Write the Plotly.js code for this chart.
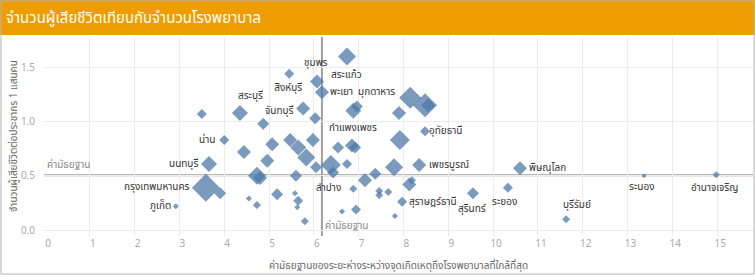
<!DOCTYPE html>
<html>
<head>
<meta charset="utf-8">
<script src="https://cdn.plot.ly/plotly-3.0.1.min.js"></script>
<style>
  html, body { margin: 0; padding: 0; background: #fff; }
  #chart { width: 755px; height: 275px; }
</style>
</head>
<body>
<div id="chart"></div>
<script>
// ---- data ----
const provinces = [
  'ชุมพร','สิงห์บุรี','สระแก้ว','พะเยา','','สระบุรี','','จันทบุรี','','','มุกดาหาร',
  '','','','','อุทัยธานี','','น่าน','','','','',
  '','','','นนทบุรี','','','','','','',
  '','','กำแพงเพชร','','','','','เพชรบูรณ์','','',
  'ลำปาง','','','','สุราษฎร์ธานี','','','','','',
  '','','','','','กรุงเทพมหานคร','','ภูเก็ต','สุรินทร์','พิษณุโลก',
  'ระยอง','บุรีรัมย์','ระนอง','อำนาจเจริญ'
];
const medianDistance = [
  6.74, 5.45, 6.07, 6.18, 3.50, 4.35, 4.87, 5.76, 6.03, 6.88, 6.96,
  8.15, 8.48, 8.55, 7.90, 8.48, 7.92, 4.00, 4.44, 5.07, 5.47, 5.65,
  5.83, 5.98, 4.96, 3.66, 4.73, 4.80, 5.60, 6.05, 6.38, 6.43,
  6.74, 6.54, 6.85, 6.92, 7.14, 7.37, 7.79, 8.35, 8.13, 8.19,
  6.88, 7.46, 7.46, 7.66, 7.97, 6.63, 6.94, 7.81, 5.80, 5.18,
  4.55, 4.73, 5.58, 5.65, 5.63, 3.59, 3.91, 2.92, 9.55, 10.60,
  10.33, 11.63, 13.37, 14.98
];
const deathsPer100k = [
  1.60, 1.44, 1.37, 1.27, 1.07, 1.08, 0.98, 1.12, 1.03, 1.10, 1.14,
  1.22, 1.15, 1.15, 1.08, 0.91, 0.83, 0.83, 0.72, 0.79, 0.83, 0.76,
  0.67, 0.83, 0.64, 0.61, 0.50, 0.48, 0.50, 0.58, 0.60, 0.53,
  0.61, 0.76, 0.78, 0.76, 0.46, 0.52, 0.58, 0.60, 0.42, 0.46,
  0.38, 0.36, 0.32, 0.35, 0.26, 0.17, 0.19, 0.13, 0.08, 0.33,
  0.29, 0.23, 0.34, 0.27, 0.21, 0.39, 0.34, 0.22, 0.34, 0.57,
  0.39, 0.10, 0.50, 0.51
];
// relative size measure (e.g. number of hospitals) per province
const hospitals = [
  9, 5, 7, 7, 5, 8, 6, 7, 6, 8, 6,
  11, 12, 7, 7, 5, 10, 5, 7, 7, 7, 8,
  9, 7, 7, 8, 9, 7, 6, 6, 10, 6,
  5, 6, 7, 6, 7, 6, 9, 7, 7, 4,
  4, 4, 4, 4, 5, 3, 5, 3, 4, 6,
  3, 4, 3, 5, 3, 14, 6, 3, 6, 7,
  5, 4, 2.5, 3.5
];
const medianX = 6.18;
const medianY = 0.505;
const xTicks = [0,1,2,3,4,5,6,7,8,9,10,11,12,13,14,15];
const yTicks = [0, 0.5, 1.0, 1.5];

// ---- label placement (pixel offsets from the mark) ----
const labelOffsets = {
  'ชุมพร': [-31, -6], 'สิงห์บุรี': [-1, -14], 'สระแก้ว': [30, 6], 'พะเยา': [20, 0],
  'มุกดาหาร': [20, 14], 'สระบุรี': [11, 17], 'จันทบุรี': [-24, -2], 'กำแพงเพชร': [1, 17],
  'อุทัยธานี': [21, 0], 'เพชรบูรณ์': [30, 0], 'สุราษฎร์ธานี': [31, 0], 'สุรินทร์': [-1, -16],
  'ลำปาง': [-25, 1], 'น่าน': [-17, 0], 'นนทบุรี': [-25, 0], 'กรุงเทพมหานคร': [-49, 1],
  'ภูเก็ต': [-15, 0], 'พิษณุโลก': [28, 0], 'ระยอง': [-3, -14], 'บุรีรัมย์': [11, 14],
  'ระนอง': [-2, -11], 'อำนาจเจริญ': [-2, -13]
};

const FONT = '"Noto Sans Thai", "Noto Sans", "Open Sans", sans-serif';

// geometry helpers for paper coords outside plot
const W = 755, H = 275, ML = 44, MR = 2, MT = 37, MB = 39;
const PW = W - ML - MR, PH = H - MT - MB;
const px = v => (v - ML) / PW;
const py = v => (H - MB - v) / PH;

const annotations = [];
provinces.forEach((p, i) => {
  if (!p || !labelOffsets[p]) return;
  annotations.push({
    x: medianDistance[i], y: deathsPer100k[i], xref: 'x', yref: 'y',
    text: p, showarrow: false,
    xshift: labelOffsets[p][0], yshift: labelOffsets[p][1],
    font: { family: FONT, size: 10, color: '#333333' }
  });
});
// median labels
annotations.push({
  x: 0, y: medianY, xref: 'paper', yref: 'y', xanchor: 'left', yanchor: 'bottom',
  text: 'ค่ามัธยฐาน', showarrow: false, xshift: 1, yshift: 0,
  font: { family: FONT, size: 10, color: '#888888' }
});
annotations.push({
  x: medianX, y: 0, xref: 'x', yref: 'paper', xanchor: 'left', yanchor: 'bottom',
  text: 'ค่ามัธยฐาน', showarrow: false, xshift: 1, yshift: 0,
  font: { family: FONT, size: 10, color: '#888888' }
});
// y-axis title
annotations.push({
  x: px(14), y: py(136), xref: 'paper', yref: 'paper', xanchor: 'center', yanchor: 'middle',
  text: 'จำนวนผู้เสียชีวิตต่อประชากร 1 แสนคน', textangle: -90, showarrow: false,
  font: { family: FONT, size: 10, color: '#666666' }
});

const trace = {
  type: 'scatter', mode: 'markers',
  x: medianDistance, y: deathsPer100k, text: provinces,
  hoverinfo: 'text+x+y',
  marker: {
    symbol: 'diamond', size: hospitals, sizemode: 'diameter', sizeref: 0.65,
    color: '#4e79a7', opacity: 0.75, line: { width: 0 }
  }
};

const layout = {
  width: W, height: H,
  margin: { l: ML, r: MR, t: MT, b: MB },
  paper_bgcolor: '#ffffff', plot_bgcolor: '#ffffff',
  showlegend: false,
  font: { family: FONT, color: '#666666' },
  title: {
    text: 'จำนวนผู้เสียชีวิตเทียบกับจำนวนโรงพยาบาล',
    x: 0.008, xanchor: 'left', xref: 'container',
    y: 1 - 18 / H, yanchor: 'middle', yref: 'container',
    font: { family: FONT, size: 15, color: '#ffffff' }
  },
  xaxis: {
    range: [-0.022, 15.80], tickvals: xTicks, ticktext: xTicks.map(String),
    showgrid: true, gridcolor: '#ececec', gridwidth: 1, zeroline: false,
    showline: false, ticks: '', ticklabelshift: 3,
    tickfont: { family: FONT, size: 10, color: '#aaaaaa' },
    title: {
      text: 'ค่ามัธยฐานของระยะห่างระหว่างจุดเกิดเหตุถึงโรงพยาบาลที่ใกล้ที่สุด',
      font: { family: FONT, size: 10, color: '#666666' }, standoff: 10
    }
  },
  yaxis: {
    range: [-0.055, 1.78], tickvals: yTicks, ticktext: ['0.0','0.5','1.0','1.5'],
    showgrid: true, gridcolor: '#ececec', gridwidth: 1, zeroline: false,
    showline: false, ticks: 'outside', ticklen: 6, tickcolor: 'rgba(0,0,0,0)',
    tickfont: { family: FONT, size: 10, color: '#aaaaaa' }
  },
  shapes: [
    { type: 'rect', xref: 'paper', yref: 'paper', x0: px(0), x1: px(W), y0: py(35), y1: py(0),
      fillcolor: '#ee9d00', line: { width: 0 }, layer: 'below' },
    { type: 'line', xref: 'x', yref: 'paper', x0: medianX, x1: medianX, y0: 0, y1: 1,
      line: { color: '#a0a0a0', width: 2 }, layer: 'below' },
    { type: 'line', xref: 'paper', yref: 'y', x0: 0, x1: 1, y0: medianY, y1: medianY,
      line: { color: '#a0a0a0', width: 2 }, layer: 'below' },
    { type: 'rect', xref: 'paper', yref: 'paper', x0: px(1), x1: px(W - 1), y0: py(H - 1), y1: py(1),
      line: { color: '#b5b5b5', width: 1 }, fillcolor: 'rgba(0,0,0,0)', layer: 'above' }
  ],
  annotations: annotations
};

Plotly.newPlot('chart', [trace], layout, { displayModeBar: false, staticPlot: true });
</script>
</body>
</html>
